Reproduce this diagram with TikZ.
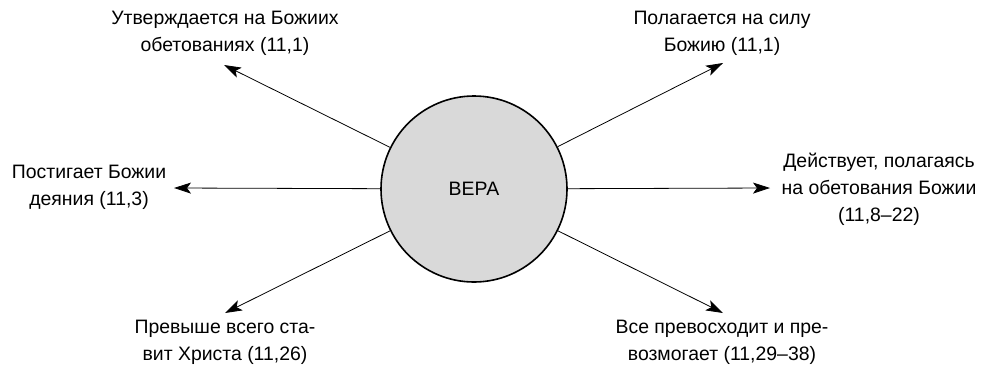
\documentclass[tikz,border=0pt]{standalone}
\usepackage{fontspec}
\setmainfont{Liberation Sans}
\usetikzlibrary{arrows.meta}
\begin{document}
\begin{tikzpicture}[x=1bp,y=-1bp,
  lbl/.style={align=center,inner sep=0pt,font=\fontsize{19.5}{27}\selectfont},
  conn/.style={line width=0.8bp,-{Stealth[length=17bp,width=11bp,inset=4bp]}},
  hub/.style={circle,draw,line width=1.6bp,fill=black!15,minimum size=186bp,inner sep=0pt,font=\fontsize{19.5}{22}\selectfont}]
\useasboundingbox (0,0) rectangle (984,367);
\node[hub] (c) at (474,189) {ВЕРА};
\coordinate (t1) at (224,65);
\coordinate (t2) at (723,63);
\coordinate (t3) at (174,188);
\coordinate (t4) at (770,188);
\coordinate (t5) at (225,313);
\coordinate (t6) at (723,313);
\draw[conn] (c) -- (t1);
\draw[conn] (c) -- (t2);
\draw[conn] (c) -- (t3);
\draw[conn] (c) -- (t4);
\draw[conn] (c) -- (t5);
\draw[conn] (c) -- (t6);
\node[lbl] (l1) at (225,33) {Утверждается на Божиих\\обетованиях (11,1)};
\node[lbl] (l2) at (722,33) {Полагается на силу\\Божию (11,1)};
\node[lbl] (l3) at (89,187) {Постигает Божии\\деяния (11,3)};
\node[lbl] (l4) at (879,189) {Действует, полагаясь\\на обетования Божии\\(11,8--22)};
\node[lbl] (l5) at (225,342) {Превыше всего ста-\\вит Христа (11,26)};
\node[lbl] (l6) at (722,342) {Все превосходит и пре-\\возмогает (11,29--38)};
\end{tikzpicture}
\end{document}
